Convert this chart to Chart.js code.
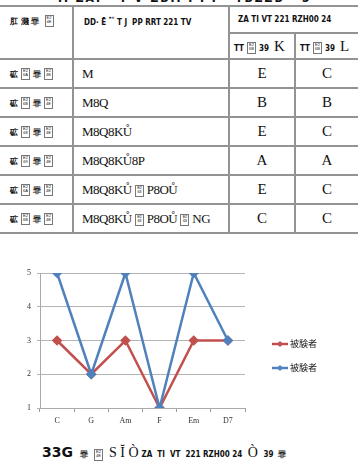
<!DOCTYPE html>
<html>
<head>
<meta charset="utf-8">
<script src="https://cdn.jsdelivr.net/npm/chart.js@4.4.1/dist/chart.umd.min.js"></script>
<style>
  body { margin: 0; width: 358px; height: 465px; background: #fff; position: relative; overflow: hidden; font-family: "Liberation Serif", serif; color: #111; }
  #title { position: absolute; top: -9px; left: 58px; font: bold 12px "DejaVu Sans Condensed", sans-serif; letter-spacing: 2px; white-space: nowrap; }
  table { position: absolute; top: 5px; left: 0; width: 358px; border-collapse: collapse; table-layout: fixed; }
  td { border-top: 2px solid #939393; border-bottom: 2px solid #939393; padding: 0; overflow: hidden; white-space: nowrap; }
  td + td, td.sub { border-left: 2px solid #939393; }
  .hd { font: bold 8px "DejaVu Sans Condensed", sans-serif; vertical-align: top; padding: 8px 0 0 10px; }
  .sub { font: bold 8px "DejaVu Sans Condensed", sans-serif; padding-left: 4px; }
  .sub b { font: 15px "Liberation Serif", serif; font-weight: normal; margin-left: 5px; }
  .lab { font: bold 8px "DejaVu Sans Condensed", sans-serif; padding-left: 10px; }
  .seq { font: 13px "Liberation Serif", serif; padding-left: 8px; letter-spacing: -0.5px; }
  .val { font: 15px "Liberation Serif", serif; text-align: center; }
  .box { display: inline-block; border: 1px solid #777; font: 4px sans-serif; line-height: 4px; width: 7px; height: 10px; text-align: center; vertical-align: middle; margin: 0 3px; }
  #chartBox { position: absolute; left: 0; top: 262px; width: 358px; height: 170px; }
  #caption { position: absolute; top: 444px; left: 42px; white-space: nowrap; font: bold 8px "DejaVu Sans Condensed", sans-serif; }
  #caption .big { font: bold 14px "DejaVu Sans", sans-serif; }
  #caption .mid { font: 14px "Liberation Serif", serif; font-weight: normal; margin: 0 3px; }
</style>
</head>
<body>
<div id="title">II ZAI &nbsp; T V ZBII I I I &nbsp; TBZZB &nbsp; 3</div>
<table id="tbl">
  <colgroup><col style="width:73px"><col style="width:156px"><col style="width:66px"><col style="width:63px"></colgroup>
  <tr style="height:27px">
    <td class="hd" rowspan="2">肛 濺 罪 <span class="box">E2<br>4E</span></td>
    <td class="hd" rowspan="2">DD· Ē <sup>ᵉᵛ</sup> T J &nbsp;PP RRT 221 TV</td>
    <td class="hd" colspan="2" style="padding-left:8px">ZA TI VT 221 RZH00 24</td>
  </tr>
  <tr style="height:26px" id="subRow"></tr>
</table>
<div id="chartBox"><canvas id="chart"></canvas></div>
<div id="caption"><span class="big">33G</span> &nbsp; 罪 <span class="box">E2<br>4E</span><span class="mid">S Ĭ Ò</span>ZA &nbsp;TI &nbsp;VT &nbsp;221 RZH00 24 <span class="mid">Ò</span> 39 &nbsp;罪</div>

<script>
// table text, as it appears in the picture
const rowLabels = ['6A', '6B', '68', '69', '6A', '6B'];
const sequences = ['M', 'M8Q', 'M8Q8KŮ', 'M8Q8KŮ8P', 'M8Q8KŮ▯P8OŮ', 'M8Q8KŮ▯P8OŮ▯NG'];
const colK = ['E', 'B', 'E', 'A', 'E', 'C'];
const colL = ['C', 'B', 'C', 'A', 'C', 'C'];
const subHeads = ['K', 'L'];

// chart data
const chords = ['C', 'G', 'Am', 'F', 'Em', 'D7'];
const seriesNames = ['被験者', '被験者'];
const subjectL = [3, 2, 3, 1, 3, 3];
const subjectK = [5, 2, 5, 1, 5, 3];
const yTicks = [1, 2, 3, 4, 5];

const tbl = document.getElementById('tbl');
const subRow = document.getElementById('subRow');
subHeads.forEach(function (h) {
    const td = document.createElement('td');
    td.className = 'sub';
    td.innerHTML = 'TT<span class="box">E2<br>6B</span>39<b>' + h + '</b>';
    subRow.appendChild(td);
});
for (let i = 0; i < sequences.length; i++) {
    const tr = document.createElement('tr');
    tr.style.height = '29px';
    tr.innerHTML =
        '<td class="lab">砿<span class="box">E2<br>' + rowLabels[i] + '</span>罪<span class="box">E2<br>4E</span></td>' +
        '<td class="seq">' + sequences[i].replace(/▯/g, '<span class="box">E2<br>63</span>') + '</td>' +
        '<td class="val">' + colK[i] + '</td>' +
        '<td class="val">' + colL[i] + '</td>';
    tbl.appendChild(tr);
}

// legend drawn to the right of the plot, Excel style
const sideLegend = {
    id: 'sideLegend',
    afterDraw(chart) {
        const ctx = chart.ctx;
        const area = chart.chartArea;
        chart.data.datasets.forEach(function (ds, i) {
            const y = area.top + 71 + i * 24;
            const x = area.right + 27;
            ctx.save();
            ctx.strokeStyle = ds.borderColor;
            ctx.lineWidth = 2.5;
            ctx.beginPath();
            ctx.moveTo(x, y);
            ctx.lineTo(x + 16, y);
            ctx.stroke();
            ctx.fillStyle = ds.borderColor;
            ctx.beginPath();
            ctx.moveTo(x + 8, y - 3);
            ctx.lineTo(x + 11, y);
            ctx.lineTo(x + 8, y + 3);
            ctx.lineTo(x + 5, y);
            ctx.closePath();
            ctx.fill();
            ctx.fillStyle = '#222';
            ctx.font = '9px "Noto Sans CJK JP"';
            ctx.textBaseline = 'middle';
            ctx.fillText(ds.label, x + 18, y);
            ctx.restore();
        });
    }
};

new Chart(document.getElementById('chart'), {
    type: 'line',
    data: {
        labels: chords,
        datasets: [{
            label: seriesNames[0],
            data: subjectL,
            borderColor: '#c0504d',
            backgroundColor: '#c0504d',
            borderWidth: 2.5,
            pointStyle: 'rectRot',
            pointRadius: 3.5,
            order: 1
        }, {
            label: seriesNames[1],
            data: subjectK,
            borderColor: '#4f81bd',
            backgroundColor: '#4f81bd',
            borderWidth: 2.5,
            pointStyle: 'rectRot',
            pointRadius: 3.5,
            order: 0
        }]
    },
    options: {
        responsive: true,
        maintainAspectRatio: false,
        animation: false,
        events: [],
        layout: { padding: { top: 11, right: 113, bottom: 0, left: 0 } },
        plugins: { legend: { display: false }, tooltip: { enabled: false } },
        scales: {
            x: {
                offset: true,
                grid: { drawOnChartArea: false, offset: true, tickLength: 4, color: '#999' },
                border: { color: '#aaa' },
                ticks: { color: '#333', font: { family: 'Liberation Serif', size: 8 }, padding: 4 },
                afterFit(scale) { scale.height = 24; }
            },
            y: {
                min: 1,
                max: 5,
                afterBuildTicks(scale) { scale.ticks = yTicks.map(v => ({ value: v })); },
                grid: { color: '#b4b4b4', tickLength: 3 },
                border: { color: '#aaa' },
                ticks: { color: '#333', font: { family: 'Liberation Serif', size: 8 }, padding: 6 },
                afterFit(scale) { scale.width = 40; }
            }
        }
    },
    plugins: [sideLegend]
});
</script>
</body>
</html>
